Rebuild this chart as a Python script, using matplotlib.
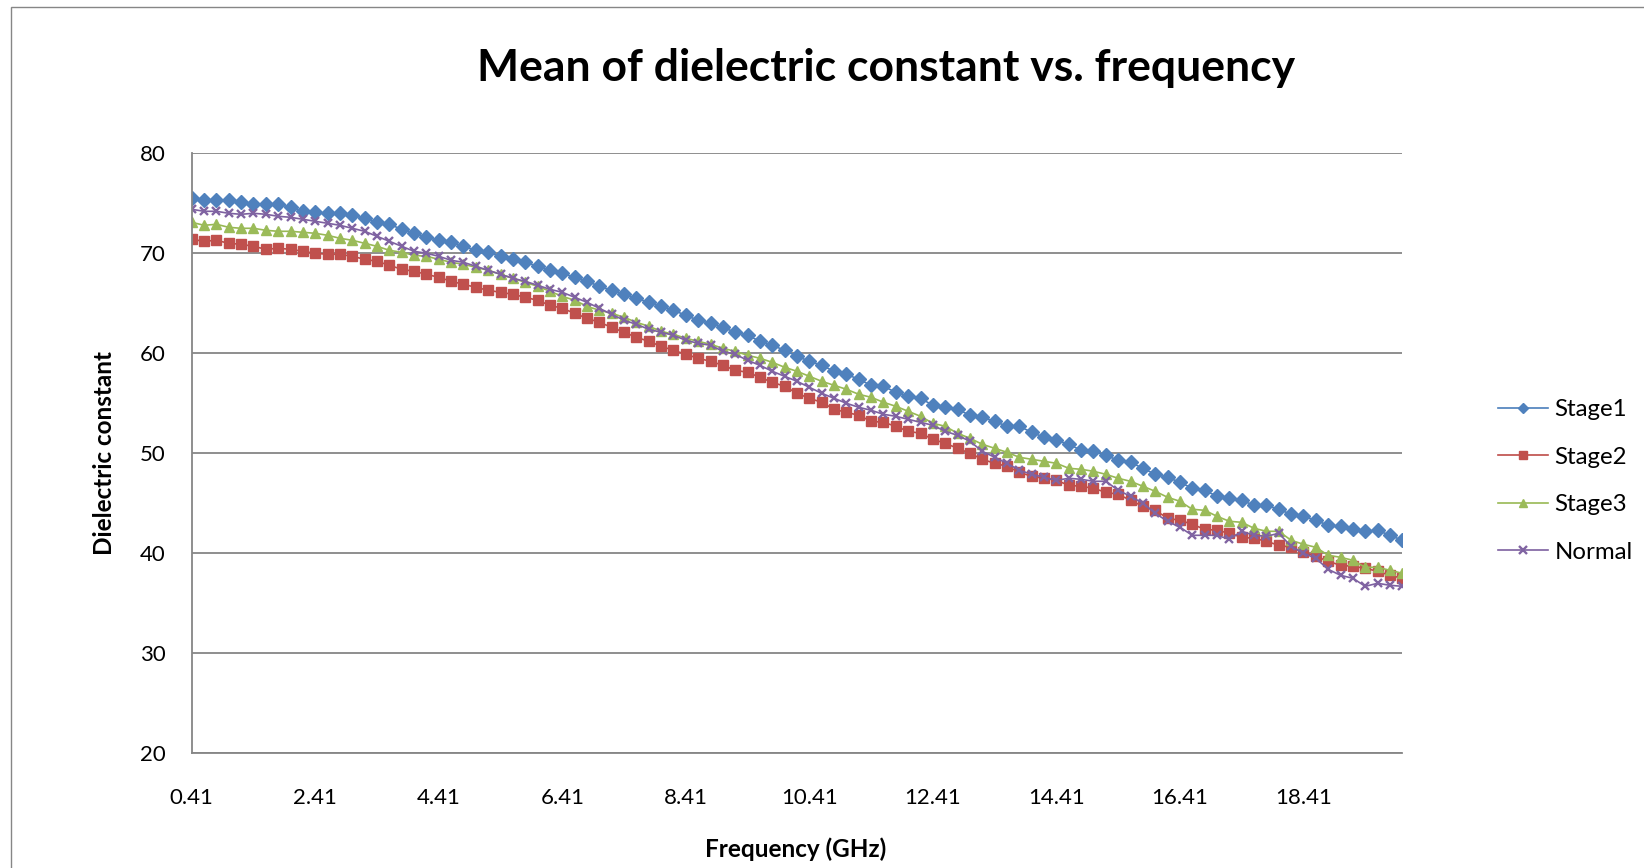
import numpy as np
import matplotlib
matplotlib.use("Agg")
import matplotlib.pyplot as plt
from matplotlib.patches import Rectangle

# ---- data ----
freq_ghz = np.round(0.41 + 0.2 * np.arange(99), 2)
tick_labels = ["0.41", "2.41", "4.41", "6.41", "8.41", "10.41", "12.41", "14.41", "16.41", "18.41"]

stage1 = [75.5, 75.3, 75.3, 75.3, 75.1, 74.9, 74.9, 74.9, 74.6, 74.2, 74.1, 74.0, 74.0, 73.8, 73.5, 73.1, 72.9,
          72.4, 72.0, 71.6, 71.3, 71.1, 70.7, 70.3, 70.1, 69.7, 69.4, 69.1, 68.7, 68.3, 68.0, 67.6, 67.2,
          66.7, 66.3, 65.9, 65.5, 65.1, 64.7, 64.3, 63.8, 63.3, 63.0, 62.6, 62.1, 61.8, 61.2, 60.8, 60.3,
          59.7, 59.2, 58.8, 58.2, 57.9, 57.4, 56.8, 56.7, 56.1, 55.7, 55.5, 54.8, 54.6, 54.4, 53.8, 53.6, 53.2,
          52.7, 52.7, 52.1, 51.6, 51.3, 50.9, 50.3, 50.2, 49.8, 49.3, 49.1, 48.5, 47.9, 47.6, 47.1, 46.5,
          46.3, 45.7, 45.5, 45.3, 44.8, 44.8, 44.4, 43.9, 43.7, 43.3, 42.8, 42.7, 42.4, 42.2, 42.3, 41.8, 41.3]

stage2 = [71.4, 71.2, 71.3, 71.0, 70.9, 70.7, 70.4, 70.5, 70.4, 70.2, 70.0, 69.9, 69.9, 69.7, 69.4, 69.2, 68.8,
          68.4, 68.2, 67.9, 67.6, 67.2, 66.9, 66.6, 66.3, 66.1, 65.9, 65.6, 65.3, 64.8, 64.5, 64.0, 63.5,
          63.1, 62.6, 62.1, 61.6, 61.2, 60.7, 60.3, 59.9, 59.5, 59.2, 58.8, 58.3, 58.1, 57.6, 57.1, 56.7,
          56.0, 55.5, 55.1, 54.4, 54.1, 53.8, 53.2, 53.1, 52.7, 52.2, 52.0, 51.4, 51.0, 50.5, 50.0, 49.4, 49.0,
          48.7, 48.1, 47.7, 47.5, 47.3, 46.8, 46.7, 46.5, 46.1, 45.9, 45.3, 44.7, 44.3, 43.5, 43.3, 42.9,
          42.4, 42.3, 42.0, 41.6, 41.5, 41.2, 40.8, 40.6, 40.1, 39.7, 39.2, 38.8, 38.7, 38.5, 38.2, 37.8, 37.5]

stage3 = [73.1, 72.8, 72.9, 72.6, 72.5, 72.5, 72.3, 72.2, 72.2, 72.1, 72.0, 71.8, 71.5, 71.3, 71.0, 70.7, 70.3,
          70.1, 69.8, 69.7, 69.4, 69.1, 68.9, 68.6, 68.3, 67.9, 67.5, 67.1, 66.7, 66.2, 65.7, 65.3, 64.7,
          64.3, 64.0, 63.6, 63.1, 62.7, 62.2, 61.9, 61.5, 61.2, 60.9, 60.5, 60.2, 59.8, 59.5, 59.1, 58.6,
          58.2, 57.7, 57.2, 56.8, 56.4, 55.9, 55.6, 55.1, 54.7, 54.2, 53.7, 53.0, 52.7, 52.0, 51.5, 50.9, 50.5,
          50.1, 49.6, 49.4, 49.2, 49.0, 48.5, 48.4, 48.2, 47.9, 47.5, 47.2, 46.7, 46.2, 45.6, 45.2, 44.4,
          44.3, 43.7, 43.2, 43.1, 42.5, 42.2, 42.2, 41.3, 40.9, 40.6, 39.8, 39.6, 39.3, 38.6, 38.6, 38.3, 38.0]

normal = [74.4, 74.2, 74.2, 74.0, 73.9, 74.0, 73.9, 73.7, 73.6, 73.4, 73.2, 73.0, 72.8, 72.5, 72.2, 71.7, 71.2,
          70.7, 70.2, 70.0, 69.7, 69.3, 69.1, 68.7, 68.3, 67.9, 67.5, 67.2, 66.8, 66.4, 66.1, 65.6, 65.1,
          64.5, 63.9, 63.3, 62.9, 62.4, 62.1, 61.8, 61.3, 61.0, 60.8, 60.2, 59.9, 59.3, 58.8, 58.2, 57.7,
          57.2, 56.6, 56.0, 55.5, 55.0, 54.6, 54.3, 53.9, 53.7, 53.4, 53.1, 52.8, 52.2, 51.8, 51.2, 50.2, 49.6,
          49.0, 48.3, 47.9, 47.6, 47.3, 47.5, 47.4, 47.2, 47.2, 46.3, 45.7, 45.0, 44.0, 43.2, 42.6, 41.8,
          41.8, 41.8, 41.4, 42.2, 41.8, 41.7, 42.0, 40.7, 40.0, 39.5, 38.4, 37.8, 37.5, 36.7, 37.0, 36.8, 36.7]

series_names = ["Stage1", "Stage2", "Stage3", "Normal"]

# ---- figure ----
plt.rcParams['font.family'] = ['Lato', 'DejaVu Sans']
W, H = 1644, 868
fig = plt.figure(figsize=(W / 100, H / 100), dpi=100)

# chart border
fig.patches.append(Rectangle((10.5 / W, -0.1), 1.2, 1.1 - 7.3 / H, transform=fig.transFigure,
                             fill=False, edgecolor="#868686", linewidth=1.0))

left, right, top, bottom = 191.7, 1402.3, 153.3, 753.3
ax = fig.add_axes([left / W, 1 - bottom / H, (right - left) / W, (bottom - top) / H])

x = np.arange(len(freq_ghz))
styles = [
    dict(color="#4A7EBB", marker="D", markersize=6.8, mfc="#4F81BD", mec="#4F81BD"),
    dict(color="#BE4B48", marker="s", markersize=6.6, mfc="#C0504D", mec="#C0504D"),
    dict(color="#98B954", marker="^", markersize=7.4, mfc="#9BBB59", mec="#9BBB59"),
    dict(color="#7D60A0", marker="x", markersize=6.4, mfc="#8064A2", mec="#8064A2", markeredgewidth=1.7),
]
for ys, name, st in zip([stage1, stage2, stage3, normal], series_names, styles):
    ax.plot(x, ys, label=name, linewidth=1.2, **st)

ax.set_xlim(0, len(freq_ghz) - 1)
ax.set_ylim(20, 80)
ax.set_yticks(np.arange(20, 81, 10))
ax.set_xticks(x[::10])
ax.set_xticklabels(tick_labels)
ax.yaxis.grid(True, color="#868686", linewidth=1.3)
ax.set_axisbelow(True)
for s in ["top", "right"]:
    ax.spines[s].set_visible(False)
for s in ["left", "bottom"]:
    ax.spines[s].set_color("#868686")
    ax.spines[s].set_linewidth(1.3)
ax.tick_params(axis="both", length=0, labelsize=16, colors="black")
ax.tick_params(axis="y", pad=19)
ax.tick_params(axis="x", pad=25)

fig.text(886 / W, 1 - 68 / H, "Mean of dielectric constant vs. frequency", ha="center", va="center",
         fontsize=32, fontweight="bold")
fig.text(104 / W, 1 - 453 / H, "Dielectric constant", ha="center", va="center", rotation=90,
         fontsize=17.5, fontweight="bold")
fig.text(796 / W, 1 - 849 / H, "Frequency (GHz)", ha="center", va="center",
         fontsize=17.5, fontweight="bold")

leg = fig.legend(loc="center left", bbox_to_anchor=(1498 / W, 1 - 481 / H), frameon=False,
                 fontsize=17.3, handlelength=2.1, labelspacing=1.1, handletextpad=0.25,
                 borderaxespad=0, borderpad=0, markerscale=0.8)

fig.savefig("out.png", dpi=100)
